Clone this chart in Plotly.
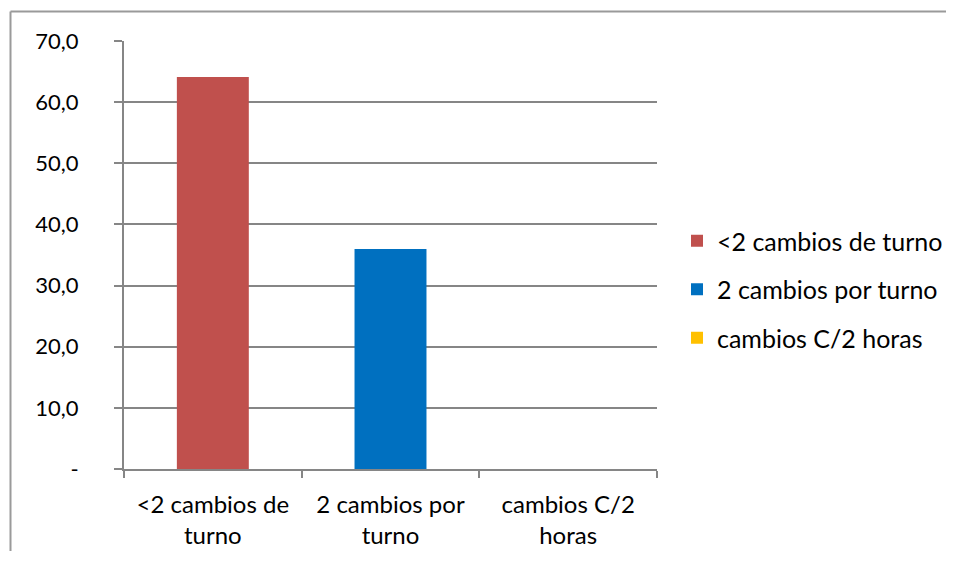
import plotly.graph_objects as go

categories = ["&lt;2 cambios de<br>turno", "2 cambios por<br>turno", "cambios C/2<br>horas"]
series_names = ["&lt;2 cambios de turno", "2 cambios por turno", "cambios C/2 horas"]
values = [64.1, 36.0, 0.0]
colors = ["#C0504D", "#0070C0", "#FFC000"]
ytick_vals = [0, 10, 20, 30, 40, 50, 60, 70]
ytick_text = ["-", "10,0", "20,0", "30,0", "40,0", "50,0", "60,0", "70,0"]

FONT = "Lato"
fig = go.Figure()
for i, (cat, name, v, c) in enumerate(zip(categories, series_names, values, colors)):
    fig.add_trace(go.Bar(
        x=[cat], y=[v], name=name, marker=dict(color=c, line=dict(width=0)),
        width=0.405, legendgroup=str(i), showlegend=True,
    ))

# page has an 8px body margin; figure coordinates are page - 8
OFF = 8
W, H = 956 - 2 * OFF - 2, 561 - 2 * OFF - 2
L, R, T, B = 124 - OFF, 657 - OFF, 41 - OFF, 469 - OFF
pw, ph = R - L, B - T

def px(x):
    return (x - OFF - L) / pw

def py(y):
    return (B - (y - OFF)) / ph

fig.update_layout(
    width=W, height=H,
    margin=dict(l=L, r=W - R, t=T, b=H - B, pad=0, autoexpand=False),
    paper_bgcolor="white", plot_bgcolor="white",
    barmode="overlay",
    font=dict(family=FONT, size=24, color="#000000"),
    showlegend=True,
    legend=dict(
        x=px(677), y=py(218), xanchor="left", yanchor="top",
        font=dict(family=FONT, size=25, color="#000000"),
        tracegroupgap=13, traceorder="grouped",
        itemwidth=30, bgcolor="rgba(0,0,0,0)",
    ),
    xaxis=dict(
        type="category", showgrid=False, showline=True, linecolor="#868686", linewidth=2,
        ticks="outside", ticklen=7, tickcolor="#868686", tickwidth=2,
        tickson="boundaries", ticklabelstandoff=13, automargin=False,
        tickfont=dict(family=FONT, size=24, color="#000000"),
        range=[-0.5, 2.5],
    ),
    yaxis=dict(
        range=[0, 70], tickvals=ytick_vals, ticktext=ytick_text,
        showgrid=True, gridcolor="#868686", gridwidth=2,
        showline=True, linecolor="#868686", linewidth=2,
        ticks="outside", ticklen=8, tickcolor="#868686", tickwidth=2,
        ticklabelstandoff=31, zeroline=False, automargin=False,
        tickfont=dict(family=FONT, size=22, color="#000000"),
    ),
    shapes=[
        dict(type="line", xref="paper", yref="paper",
             x0=px(10.5), x1=px(1100), y0=py(11.5), y1=py(11.5),
             line=dict(color="#9A9A9A", width=2), layer="below"),
        dict(type="line", xref="paper", yref="paper",
             x0=px(10.5), x1=px(10.5), y0=py(11.5), y1=py(700),
             line=dict(color="#9A9A9A", width=2), layer="below"),
    ],
)

fig.write_html("out.html")
